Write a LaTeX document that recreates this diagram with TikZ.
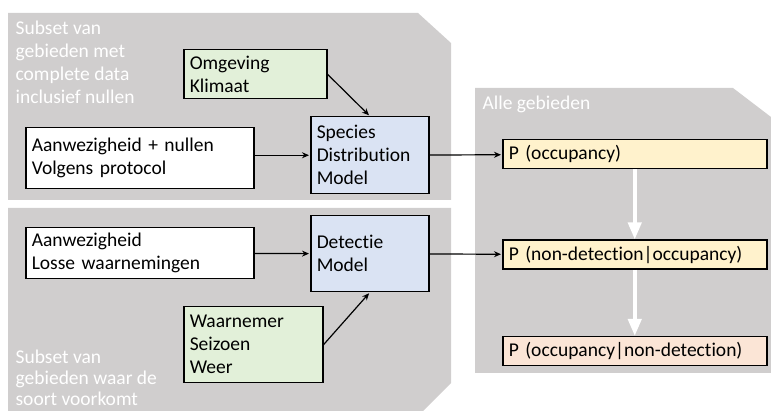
\documentclass[tikz,border=0pt]{standalone}
\usepackage{fontspec}
\setmainfont{Carlito}[Ligatures=NoCommon]
\usetikzlibrary{arrows.meta,positioning}

\definecolor{paneel}{HTML}{D0CECE}
\definecolor{groen}{HTML}{E2F0D9}
\definecolor{blauw}{HTML}{DAE3F3}
\definecolor{geel}{HTML}{FFF2CC}
\definecolor{perzik}{HTML}{FBE5D6}
\newcommand{\tekstgrootte}{\fontsize{19.5}{23}\selectfont}

\begin{document}
\begin{tikzpicture}[x=1pt,y=-1pt,>={Stealth[length=7pt,width=6pt]},shorten >=1pt,line width=1.2pt,
    box node/.style={draw,line width=1.5pt,anchor=north west,align=left,inner xsep=6pt,inner ysep=0pt,font=\tekstgrootte},
    prob node/.style={box node,text width=252pt,minimum height=29pt},
    label node/.style={anchor=north west,align=left,inner sep=0pt,text=white,font=\tekstgrootte}]

    \useasboundingbox (0,0) rectangle (771,411);

    % grijze vlakken
    \fill[paneel] (8,13) -- (418,13) -- (451,43) -- (451,200) -- (8,200) -- cycle;
    \fill[paneel] (8,208) -- (451,208) -- (451,383) -- (423,411) -- (8,411) -- cycle;
    \fill[paneel] (475,88) -- (733,88) -- (771,117) -- (771,373) -- (475,373) -- cycle;

    \node[label node] (subsetboven) at (15,20) {Subset van\\gebieden met\\complete data\\inclusief nullen};
    \node[label node, font=\fontsize{19.5}{21}\selectfont] (subsetonder) at (15,349) {Subset van\\gebieden waar de\\soort voorkomt};
    \node[label node] (alle) at (482,95) {Alle gebieden};

    % invoer en modellen
    \node[box node, fill=groen, text width=131pt, minimum height=49pt] (omgeving) at (183,49) {Omgeving\\Klimaat};
    \node[box node, fill=white, text width=216pt, minimum height=61pt] (aanwnul) at (25,127) {Aanwezigheid + nullen\\Volgens protocol};
    \node[box node, fill=blauw, text width=106pt, minimum height=77pt] (sdm) at (310,116) {Species\\Distribution\\Model};

    \node[box node, fill=white, text width=216pt, minimum height=51pt] (aanwlos) at (25,227) {Aanwezigheid\\Losse waarnemingen};
    \node[box node, fill=blauw, text width=106pt, minimum height=76pt] (detectie) at (310,215) {Detectie\\Model};
    \node[box node, fill=groen, text width=127pt, minimum height=76pt] (waarnemer) at (183,306) {Waarnemer\\Seizoen\\Weer};

    % kansen
    \node[prob node, fill=geel] (pocc) at (502,139) {P (occupancy)};
    \node[prob node, fill=geel, below=70pt of pocc] (pnon) {P (non-detection|occupancy)};
    \node[prob node, fill=perzik, below=66pt of pnon] (pcond) {P (occupancy|non-detection)};

    \path[->]
        (omgeving.east) edge (sdm.north)
        (aanwnul.east |- sdm) edge (sdm.west)
        (sdm) edge (pocc)
        (aanwlos) edge (detectie)
        (waarnemer.east) edge (detectie.south)
        (detectie) edge (pnon)
    ;
    \path[white, line width=4pt, -{Triangle[width=13pt,length=17pt]}, shorten >=0pt]
        (pocc) edge (pnon)
        (pnon) edge (pcond)
    ;
\end{tikzpicture}
\end{document}
